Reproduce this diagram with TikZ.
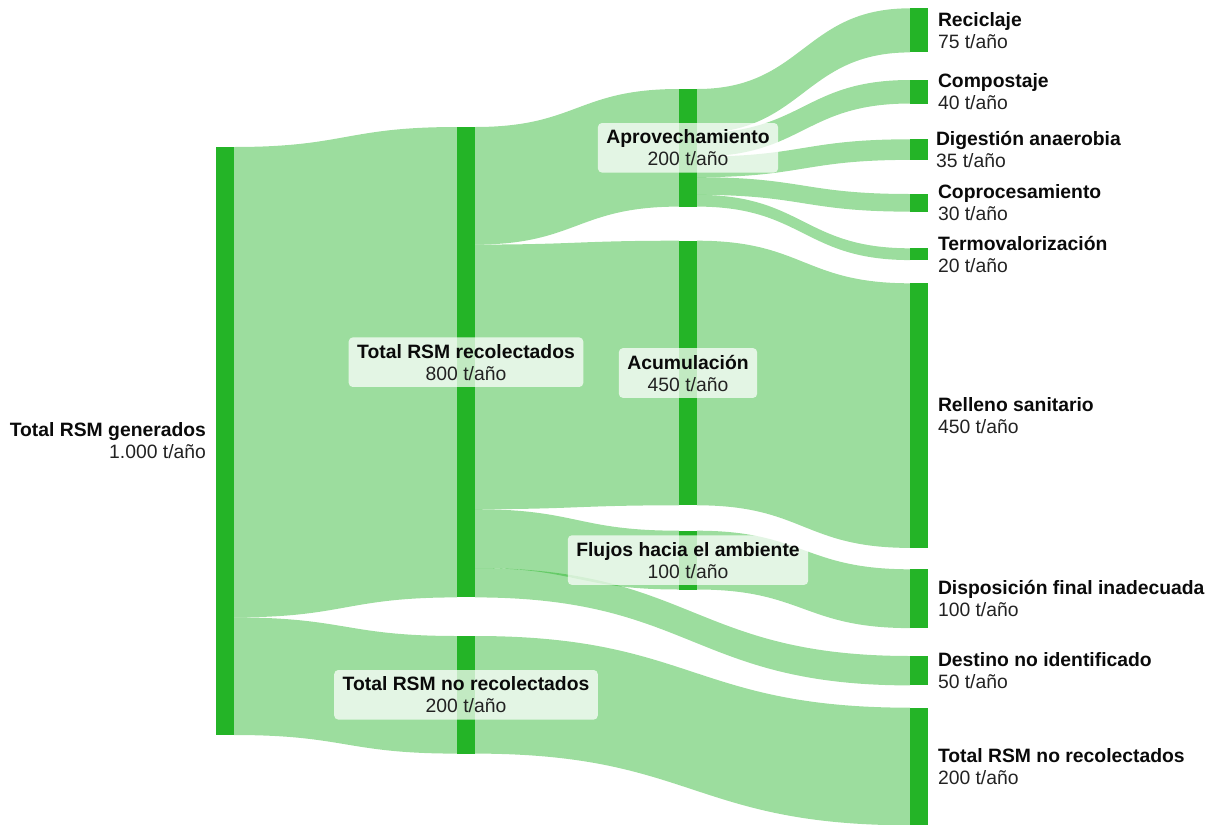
\documentclass[tikz,border=0pt]{standalone}
\usepackage{fontspec}
\setmainfont{Liberation Sans}
\usetikzlibrary{calc,positioning}
\definecolor{barc}{HTML}{24B427}
\definecolor{txtc}{HTML}{0A0A0A}
\definecolor{valc}{HTML}{222222}
\pgfdeclarelayer{bg}
\pgfsetlayers{bg,main}
% #1 source node, #2 offset in source (px), #3 target node, #4 offset in target (px), #5 width (px)
\newcommand\sflow[5]{%
  \begin{pgfonlayer}{bg}
  \fill[flow] let \p1=(#1.north east), \p2=(#3.north west) in
   (\x1,{\y1-(#2)*0.75pt})
   .. controls ({0.5*\x1+0.5*\x2},{\y1-(#2)*0.75pt}) and ({0.5*\x1+0.5*\x2},{\y2-(#4)*0.75pt}) ..
   (\x2,{\y2-(#4)*0.75pt})
   -- (\x2,{\y2-(#4+#5)*0.75pt})
   .. controls ({0.5*\x1+0.5*\x2},{\y2-(#4+#5)*0.75pt}) and ({0.5*\x1+0.5*\x2},{\y1-(#2+#5)*0.75pt}) ..
   (\x1,{\y1-(#2+#5)*0.75pt}) -- cycle;
  \end{pgfonlayer}}
\begin{document}
\begin{tikzpicture}[x=0.75pt,y=-0.75pt,
  every node/.style={font=\fontsize{14.5}{16.5}\selectfont, text=txtc},
  bar/.style={fill=barc, draw=none, inner sep=0pt, outer sep=0pt, minimum width=13.5pt, anchor=north west},
  bh/.style={minimum height=#1*0.75pt},
  flow/.style={fill=barc, fill opacity=0.45},
  rlab/.style={align=left, inner sep=0pt, outer sep=0pt},
  llab/.style={align=right, inner sep=0pt, outer sep=0pt},
  mlab/.style={fill=white, fill opacity=0.72, text opacity=1, rounded corners=3pt, align=center, inner xsep=6.3pt, inner ysep=5pt}]
\useasboundingbox (0,0) rectangle (1215,825);

% bars
\node[bar, bh=588]    (gen)    at (216,147) {};
\node[bar, bh=470.4]  (rec)    at (457,127) {};
\node[bar, bh=117.6]  (norec)  at (457,636) {};
\node[bar, bh=117.6]  (aprov)  at (679,89) {};
\node[bar, bh=264.6]  (acum)   at (679,240.7) {};
\node[bar, bh=58.8]   (fluj)   at (679,530.7) {};
\node[bar, bh=44.1]   (reci)   at (910,8.3) {};
\node[bar, bh=23.52]  (comp)   at (910,80) {};
\node[bar, bh=20.58]  (dige)   at (910,139.3) {};
\node[bar, bh=17.64]  (copr)   at (910,194) {};
\node[bar, bh=11.76]  (term)   at (910,248.3) {};
\node[bar, bh=264.6]  (rell)   at (910,283.3) {};
\node[bar, bh=58.8]   (disp)   at (910,569.3) {};
\node[bar, bh=29.4]   (dest)   at (910,656) {};
\node[bar, bh=117.6]  (norecR) at (910,707.7) {};

% flows
\sflow{gen}{0}{rec}{0}{470.4}
\sflow{gen}{470.4}{norec}{0}{117.6}
\sflow{rec}{0}{aprov}{0}{117.6}
\sflow{rec}{117.6}{acum}{0}{264.6}
\sflow{rec}{382.2}{fluj}{0}{58.8}
\sflow{rec}{441}{dest}{0}{29.4}
\sflow{norec}{0}{norecR}{0}{117.6}
\sflow{aprov}{0}{reci}{0}{44.1}
\sflow{aprov}{44.1}{comp}{0}{23.52}
\sflow{aprov}{67.62}{dige}{0}{20.58}
\sflow{aprov}{88.2}{copr}{0}{17.64}
\sflow{aprov}{105.84}{term}{0}{11.76}
\sflow{acum}{0}{rell}{0}{264.6}
\sflow{fluj}{0}{disp}{0}{58.8}

% labels
\node[llab, left=7.5pt of gen] (lgen) {\textbf{Total RSM generados}\\\textcolor{valc}{1.000 t/año}};
\node[mlab] (lrec) at (rec) {\textbf{Total RSM recolectados}\\\textcolor{valc}{800 t/año}};
\node[mlab] (lnorec) at (norec) {\textbf{Total RSM no recolectados}\\\textcolor{valc}{200 t/año}};
\node[mlab] (laprov) at (aprov) {\textbf{Aprovechamiento}\\\textcolor{valc}{200 t/año}};
\node[mlab] (lacum) at (acum) {\textbf{Acumulación}\\\textcolor{valc}{450 t/año}};
\node[mlab] (lfluj) at (fluj) {\textbf{Flujos hacia el ambiente}\\\textcolor{valc}{100 t/año}};
\node[rlab, right=7.5pt of reci] (lreci) {\textbf{Reciclaje}\\\textcolor{valc}{75 t/año}};
\node[rlab, right=7.5pt of comp] (lcomp) {\textbf{Compostaje}\\\textcolor{valc}{40 t/año}};
\node[rlab, right=6pt of dige] (ldige) {\textbf{Digestión anaerobia}\\\textcolor{valc}{35 t/año}};
\node[rlab, right=7.5pt of copr] (lcopr) {\textbf{Coprocesamiento}\\\textcolor{valc}{30 t/año}};
\node[rlab, right=7.5pt of term] (lterm) {\textbf{Termovalorización}\\\textcolor{valc}{20 t/año}};
\node[rlab, right=7.5pt of rell] (lrell) {\textbf{Relleno sanitario}\\\textcolor{valc}{450 t/año}};
\node[rlab, right=7.5pt of disp] (ldisp) {\textbf{Disposición final inadecuada}\\\textcolor{valc}{100 t/año}};
\node[rlab, right=7.5pt of dest] (ldest) {\textbf{Destino no identificado}\\\textcolor{valc}{50 t/año}};
\node[rlab, right=7.5pt of norecR] (lnorecR) {\textbf{Total RSM no recolectados}\\\textcolor{valc}{200 t/año}};
\end{tikzpicture}
\end{document}
